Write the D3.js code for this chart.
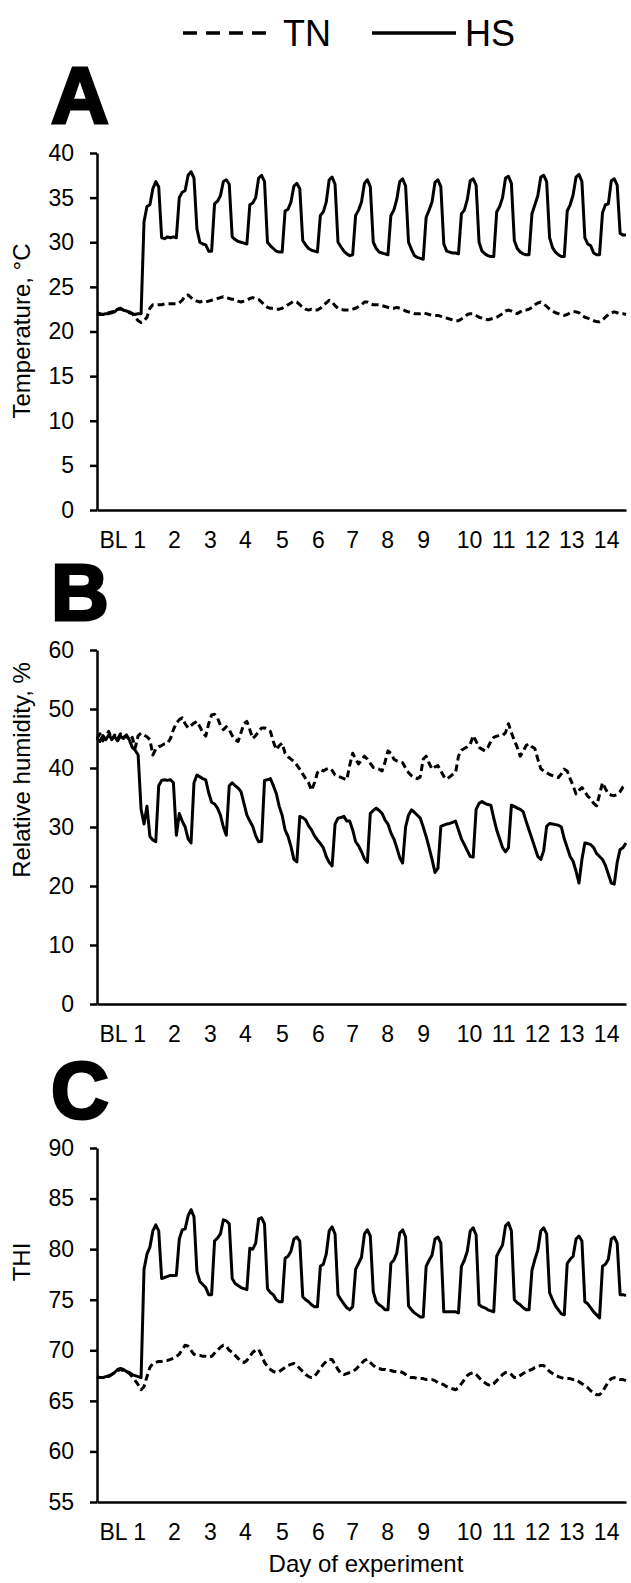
<!DOCTYPE html>
<html lang="en">
<head>
<meta charset="utf-8">
<title>TN vs HS climate</title>
<script src="https://cdn.jsdelivr.net/npm/d3@7"></script>
<style>
  body { margin: 0; padding: 0; background: #fff; }
  svg { display: block; font-family: "Liberation Sans", Arial, sans-serif; }
  .axis path, .axis line { stroke: #000; stroke-width: 2.5px; }
  .axis text { fill: #000; font-size: 23px; }
  .line { fill: none; stroke: #000; stroke-width: 3px; stroke-linejoin: round; }
  .tn { stroke-dasharray: 7,4; }
  .title { font-size: 24px; fill: #000; }
  .letter { font-size: 80px; font-weight: bold; fill: #000; stroke: #000; stroke-width: 3px; }
  .legend text { font-size: 36px; fill: #000; }
</style>
</head>
<body>
<svg id="chart" width="631" height="1583"></svg>
<script>
// sampling grid: hours from start of baseline, every 2 h
var hours = d3.range(0, 361, 2);

// x tick labels and where they sit (hours)
var dayLabels = ["BL", "1", "2", "3", "4", "5", "6", "7", "8", "9", "10", "11", "12", "13", "14"];
var dayHours = [10.9, 28.6, 52.4, 76.9, 100.7, 125.9, 150.4, 173.6, 197.4, 221.9, 253.2, 276.4, 299.5, 322.7, 346.5];

// y ticks
var tempTicks = [0, 5, 10, 15, 20, 25, 30, 35, 40];
var rhTicks = [0, 10, 20, 30, 40, 50, 60];
var thiTicks = [55, 60, 65, 70, 75, 80, 85, 90];

// A: temperature, C
var tnTemp = [
  22.1, 22.0, 21.9, 22.0, 22.1, 22.2, 22.3, 22.5, 22.5, 22.4, 22.3, 22.1, 22.0, 21.6, 21.2,
  21.0, 21.2, 21.6, 22.6, 23.0, 23.0, 23.0, 23.0, 23.1, 23.1, 23.1, 23.1,
  23.1, 23.2, 23.5, 24.0, 24.1, 23.8, 23.5, 23.4, 23.3, 23.4, 23.3, 23.4,
  23.5, 23.6, 23.7, 23.8, 23.9, 23.8, 23.7, 23.6, 23.6, 23.4, 23.3, 23.4,
  23.5, 23.7, 23.8, 23.7, 23.6, 23.3, 23.0, 22.7, 22.6, 22.6, 22.5, 22.5,
  22.6, 22.8, 23.0, 23.2, 23.4, 23.3, 23.0, 22.7, 22.5, 22.4, 22.5, 22.4,
  22.4, 22.6, 22.9, 23.2, 23.5, 23.3, 22.9, 22.6, 22.5, 22.4, 22.4, 22.4,
  22.5, 22.6, 22.8, 23.0, 23.3, 23.3, 23.1, 23.0, 23.0, 23.0, 22.9, 22.8,
  22.7, 22.6, 22.6, 22.7, 22.6, 22.5, 22.3, 22.2, 22.1, 22.0, 22.0, 22.0,
  22.1, 22.0, 21.9, 21.8, 21.8, 21.8, 21.7, 21.6, 21.5, 21.4, 21.3, 21.2,
  21.2, 21.4, 21.6, 21.9, 22.0, 22.0, 21.8, 21.6, 21.5, 21.4, 21.3, 21.4,
  21.5, 21.6, 21.8, 22.0, 22.3, 22.4, 22.3, 22.1, 22.0, 22.2, 22.4, 22.4,
  22.5, 22.7, 23.0, 23.2, 23.3, 23.1, 22.8, 22.5, 22.3, 22.1, 22.0, 21.9,
  21.8, 21.9, 22.1, 22.2, 22.2, 22.1, 21.8, 21.6, 21.5, 21.3, 21.2, 21.1,
  21.1, 21.3, 21.6, 21.9, 22.1, 22.2, 22.1, 22.0, 22.0, 21.9
];
var hsTemp = [
  22.0, 21.9, 21.9, 22.0, 22.0, 22.1, 22.2, 22.5, 22.6, 22.4, 22.3, 22.2, 22.0, 21.9, 22.0,
  22.0, 32.3, 34.0, 34.2, 36.0, 36.8, 36.2, 30.5, 30.4, 30.6, 30.5, 30.6,
  30.5, 35.0, 35.6, 35.8, 37.5, 37.9, 37.2, 31.5, 30.0, 29.8, 29.7, 29.0,
  29.0, 34.3, 34.6, 35.2, 36.8, 37.0, 36.5, 30.6, 30.3, 30.1, 30.0, 29.9,
  29.8, 34.2, 34.4, 35.0, 37.2, 37.5, 36.8, 30.0, 29.6, 29.3, 29.0, 28.9,
  28.9, 33.5, 33.7, 34.5, 36.3, 36.6, 36.0, 30.2, 29.7, 29.3, 29.1, 29.0,
  28.9, 33.0, 33.4, 34.5, 37.0, 37.3, 36.5, 30.0, 29.5, 29.0, 28.7, 28.5,
  28.6, 33.0, 33.6, 34.5, 36.6, 37.0, 36.2, 30.0, 29.3, 28.9, 28.8, 28.7,
  28.6, 33.0, 33.6, 34.8, 36.8, 37.1, 36.3, 30.0, 29.2, 28.5, 28.3, 28.2,
  28.1, 32.8, 33.6, 34.5, 36.7, 37.0, 36.2, 29.8, 29.0, 28.9, 28.8, 28.8,
  28.7, 33.2, 33.6, 34.8, 36.9, 37.1, 36.4, 30.0, 29.0, 28.7, 28.5, 28.4,
  28.4, 33.4, 34.0, 35.0, 37.2, 37.4, 36.6, 30.2, 29.3, 28.9, 28.7, 28.6,
  28.6, 33.2, 34.2, 35.2, 37.3, 37.5, 36.8, 30.5, 29.4, 28.9, 28.6, 28.4,
  28.4, 33.5, 34.2, 35.3, 37.3, 37.6, 36.8, 30.5, 29.8, 29.6, 28.8, 28.6,
  28.6, 33.3, 34.2, 34.3, 36.9, 37.1, 36.4, 31.0, 30.8, 30.8
];

// B: relative humidity, %
var tnRh = [
  45.0, 45.8, 44.6, 45.5, 46.2, 44.8, 45.6, 44.9, 45.8, 45.2, 45.5, 44.7, 45.2, 43.4, 45.5,
  45.9, 45.6, 45.3, 44.8, 42.2, 43.2, 43.6, 43.8, 44.1, 44.2, 45.0, 46.5,
  47.6, 48.2, 48.5, 47.5, 46.8, 47.2, 47.6, 47.9, 47.0, 46.0, 45.4, 47.5,
  49.0, 49.1, 48.5, 47.2, 46.5, 47.0, 46.5, 45.5, 44.8, 44.5, 46.0, 47.5,
  47.9, 46.5, 45.0, 45.5, 46.2, 46.8, 46.8, 46.5, 46.2, 44.5, 43.1, 43.8,
  44.2, 42.5, 41.9, 41.5, 41.1, 40.5, 39.8, 39.0, 38.2, 37.5, 36.2, 37.5,
  39.2, 39.7, 39.5, 39.8, 40.0, 39.6, 38.8, 38.6, 38.4, 38.2, 38.0, 40.5,
  42.5, 41.5, 40.7, 41.3, 42.0, 41.5, 40.8, 40.1, 40.0, 39.8, 39.5, 41.0,
  42.9, 42.5, 41.5, 41.2, 41.0, 40.9, 40.0, 39.2, 38.7, 38.4, 38.2, 38.5,
  41.5, 42.0, 40.8, 39.8, 40.2, 40.4, 39.5, 38.6, 38.1, 38.5, 38.9, 39.2,
  42.0, 43.0, 43.3, 43.6, 44.0, 45.5, 44.5, 43.5, 43.2, 42.9, 43.5, 44.5,
  45.2, 45.4, 45.5, 45.5, 46.0, 47.5, 46.0, 44.7, 43.5, 42.0, 42.8, 43.8,
  44.1, 43.6, 43.3, 41.5, 39.9, 39.5, 39.2, 38.9, 38.7, 38.5, 38.4, 39.0,
  39.8, 39.5, 38.2, 37.0, 35.6, 36.2, 36.7, 36.0, 35.2, 34.8, 34.0, 33.6,
  35.5, 37.5, 36.5, 35.6, 35.4, 35.3, 35.5, 36.0, 36.8, 37.2
];
var hsRh = [
  45.0, 44.5, 45.5, 44.8, 45.6, 44.9, 45.3, 44.6, 45.4, 45.0, 45.6, 44.8, 43.5, 43.0, 42.2,
  33.0, 30.5, 33.5, 28.4, 27.8, 27.5, 37.0, 37.9, 38.0, 37.9, 38.0, 37.5,
  28.6, 32.3, 31.0, 30.0, 28.0, 27.3, 37.5, 38.8, 38.5, 38.2, 38.0, 35.8,
  34.2, 33.9, 33.2, 32.0, 30.0, 28.6, 37.0, 37.5, 37.0, 36.6, 36.0, 34.0,
  32.0, 31.0, 30.1, 28.5, 27.5, 27.6, 37.9, 38.0, 38.2, 37.0, 35.7, 33.5,
  32.0, 29.5, 28.4, 26.7, 24.5, 24.1, 31.8, 31.6, 31.2, 30.2, 29.5, 28.5,
  27.8, 27.2, 26.5, 25.0, 24.0, 23.4, 30.5, 31.5, 31.6, 31.8, 31.0, 31.0,
  29.5, 27.5, 26.8, 25.8, 24.6, 24.0, 32.3, 32.8, 33.2, 32.8, 32.3, 31.2,
  30.5, 29.0, 28.0, 26.5, 24.8, 23.9, 30.0, 32.0, 32.9, 32.5, 32.0, 31.5,
  30.0, 28.4, 26.5, 24.5, 22.3, 23.0, 30.1, 30.3, 30.5, 30.6, 30.8, 31.0,
  29.5, 28.0, 27.0, 26.0, 25.0, 24.9, 33.0, 34.0, 34.3, 34.0, 33.8, 33.7,
  31.5, 29.5, 28.0, 26.5, 25.8, 26.5, 33.7, 33.5, 33.2, 33.0, 32.6, 31.0,
  29.5, 28.0, 26.5, 25.0, 24.5, 26.0, 30.1, 30.6, 30.5, 30.4, 30.3, 30.0,
  28.0, 26.5, 25.0, 24.2, 22.5, 20.5, 24.5, 27.3, 27.2, 27.0, 26.5, 25.5,
  25.0, 24.5, 23.5, 22.0, 20.5, 20.3, 24.0, 26.2, 26.5, 27.3
];

// C: temperature-humidity index
var tnThi = [
  67.4, 67.3, 67.3, 67.4, 67.5, 67.6, 67.8, 68.0, 68.1, 68.0, 67.9, 67.7, 67.4, 67.0, 66.6,
  66.1, 66.4, 67.4, 68.3, 68.7, 68.8, 68.9, 68.9, 69.0, 69.0, 69.1, 69.2,
  69.4, 69.6, 70.1, 70.5, 70.4, 70.0, 69.6, 69.5, 69.5, 69.4, 69.4, 69.3,
  69.4, 69.7, 70.0, 70.3, 70.5, 70.4, 70.0, 69.8, 69.5, 69.2, 68.9, 68.8,
  69.0, 69.4, 69.8, 70.0, 70.1, 69.5, 68.8, 68.4, 68.1, 67.9, 67.8, 67.9,
  68.1, 68.3, 68.5, 68.6, 68.7, 68.5, 68.2, 67.9, 67.6, 67.4, 67.3, 67.4,
  67.8, 68.2, 68.6, 68.9, 69.1, 69.1, 68.6, 68.1, 67.7, 67.6, 67.7, 67.8,
  67.9, 68.1, 68.4, 68.7, 69.0, 69.1, 68.8, 68.5, 68.3, 68.2, 68.1, 68.1,
  68.0, 68.0, 67.9, 67.9, 67.9, 67.8, 67.6, 67.4, 67.3, 67.3, 67.2, 67.2,
  67.2, 67.1, 67.1, 67.1, 67.0, 66.8, 66.7, 66.6, 66.4, 66.3, 66.2, 66.1,
  66.3, 66.7, 67.1, 67.5, 67.7, 67.8, 67.6, 67.3, 67.0, 66.8, 66.6, 66.5,
  66.7, 67.0, 67.3, 67.6, 67.8, 67.8, 67.6, 67.3, 67.3, 67.5, 67.7, 67.9,
  68.0, 68.1, 68.3, 68.4, 68.5, 68.5, 68.2, 67.9, 67.7, 67.5, 67.4, 67.3,
  67.2, 67.2, 67.2, 67.1, 67.1, 66.9, 66.7, 66.5, 66.3, 66.0, 65.8, 65.6,
  65.6, 65.9, 66.4, 66.9, 67.2, 67.3, 67.2, 67.1, 67.1, 67.0
];
var hsThi = [
  67.4, 67.3, 67.3, 67.4, 67.4, 67.6, 67.8, 68.1, 68.2, 68.1, 67.9, 67.8, 67.6, 67.5, 67.4,
  67.3, 78.0, 79.5, 80.2, 81.8, 82.4, 81.8, 77.1, 77.2, 77.3, 77.4, 77.4,
  77.4, 81.0, 81.9, 82.0, 83.3, 83.9, 83.2, 77.8, 76.8, 76.5, 76.2, 75.5,
  75.5, 80.8, 81.1, 81.5, 82.9, 82.8, 82.5, 77.1, 76.6, 76.4, 76.2, 76.1,
  76.0, 80.1, 80.0, 80.6, 83.0, 83.1, 82.5, 76.1, 75.7, 75.5, 75.0, 74.8,
  74.8, 79.1, 79.3, 79.8, 81.0, 81.2, 80.8, 75.3, 75.0, 74.8, 74.5, 74.3,
  74.3, 78.3, 78.5, 79.5, 81.8, 82.2, 81.5, 75.5, 75.0, 74.6, 74.2, 74.0,
  74.3, 78.0, 78.6, 79.2, 81.5, 81.9, 81.3, 75.8, 74.8, 74.5, 74.3, 74.0,
  74.0, 78.6, 78.9, 79.6, 81.6, 81.9, 81.2, 74.4, 74.0, 73.7, 73.5, 73.3,
  73.3, 78.3, 78.9, 79.4, 81.0, 81.2, 80.6, 73.8, 73.8, 73.8, 73.8, 73.8,
  73.7, 78.3, 78.9, 79.8, 81.8, 82.1, 81.4, 74.5, 74.3, 74.2, 74.0, 73.9,
  73.8, 79.3, 79.9, 80.4, 82.3, 82.6, 81.8, 75.0, 74.7, 74.5, 74.2, 74.0,
  74.0, 77.9, 79.0, 79.9, 81.8, 82.1, 81.5, 75.7, 75.0, 74.4, 74.0, 73.6,
  73.5, 78.6, 79.0, 79.3, 81.0, 81.3, 80.8, 74.8, 74.6, 74.2, 73.8, 73.5,
  73.2, 78.3, 78.5, 79.0, 81.0, 81.2, 80.6, 75.5, 75.5, 75.4
];

var svg = d3.select("#chart");

// shared time scale
var x = d3.scaleLinear().domain([0, 360]).range([97, 626]);

var panels = [
  {letter: "A", title: "Temperature, \u00b0C", tn: tnTemp, hs: hsTemp, domain: [0, 40], ticks: tempTicks, top: 153, bottom: 510, titleY: 331},
  {letter: "B", title: "Relative humidity, %", tn: tnRh, hs: hsRh, domain: [0, 60], ticks: rhTicks, top: 650, bottom: 1004, titleY: 770},
  {letter: "C", title: "THI", tn: tnThi, hs: hsThi, domain: [55, 90], ticks: thiTicks, top: 1148, bottom: 1502, titleY: 1262}
];

panels.forEach(function(p){
  var y = d3.scaleLinear().domain(p.domain).range([p.bottom, p.top]);
  var g = svg.append("g");

  // panel letter
  g.append("text")
    .attr("class", "letter")
    .attr("x", 51)
    .attr("y", p.top - 30)
    .text(p.letter);

  // x axis, labels only
  g.append("g")
    .attr("class", "axis")
    .attr("transform", "translate(0," + p.bottom + ")")
    .call(d3.axisBottom(x)
      .tickValues(dayHours)
      .tickFormat(function(d, i){ return dayLabels[i]; })
      .tickSize(0)
      .tickPadding(22));

  // y axis
  g.append("g")
    .attr("class", "axis")
    .attr("transform", "translate(" + x(0) + ",0)")
    .call(d3.axisLeft(y)
      .tickValues(p.ticks)
      .tickSize(7)
      .tickSizeOuter(0)
      .tickPadding(16));

  g.append("text")
    .attr("class", "title")
    .attr("text-anchor", "middle")
    .attr("dy", "0.35em")
    .attr("transform", "translate(22," + p.titleY + ") rotate(-90)")
    .text(p.title);

  var line = d3.line()
    .defined(function(d){ return d != null; })
    .x(function(d, i){ return x(hours[i]); })
    .y(function(d){ return y(d); });

  g.append("path").attr("class", "line tn").attr("d", line(p.tn));
  g.append("path").attr("class", "line hs").attr("d", line(p.hs));
});

// legend
var legend = svg.append("g").attr("class", "legend");
legend.append("line")
  .attr("x1", 183).attr("x2", 266).attr("y1", 33).attr("y2", 33)
  .attr("stroke", "#000").attr("stroke-width", 3.5).attr("stroke-dasharray", "14,9");
legend.append("text").attr("x", 283).attr("y", 46).text("TN");
legend.append("line")
  .attr("x1", 372).attr("x2", 456).attr("y1", 33).attr("y2", 33)
  .attr("stroke", "#000").attr("stroke-width", 3.5);
legend.append("text").attr("x", 465).attr("y", 46).text("HS");

// x axis title
svg.append("text")
  .attr("class", "title")
  .attr("text-anchor", "middle")
  .attr("x", 366)
  .attr("y", 1572)
  .text("Day of experiment");
</script>
</body>
</html>
